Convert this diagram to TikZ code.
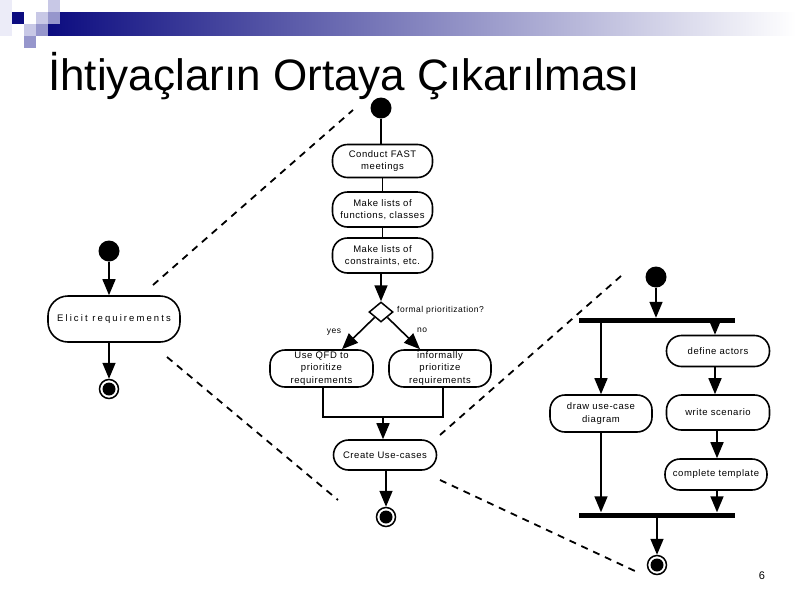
\documentclass[tikz,border=0pt]{standalone}
\usepackage{fontspec}
\setmainfont{Liberation Sans}
\newfontfamily\dfont[LetterSpace=6]{Liberation Sans}
\newfontfamily\wfont[LetterSpace=22]{Liberation Sans}
\usetikzlibrary{arrows.meta,shapes.geometric,calc}
\definecolor{navyd}{RGB}{12,12,128}
\definecolor{lavA}{RGB}{236,236,248}
\definecolor{lavB}{RGB}{200,200,230}
\definecolor{lavC}{RGB}{150,150,204}
\begin{document}
\begin{tikzpicture}[x=1pt,y=-1pt,
  act/.style={draw, line width=1.6pt, rounded corners=15pt, align=center,
    font=\dfont\fontsize{9.5}{12.5}\selectfont, inner sep=1pt, fill=white},
  startdot/.style={circle, fill=black, minimum size=21pt, inner sep=0pt},
  enddot/.style={circle, draw, line width=1.5pt, minimum size=19pt, inner sep=0pt,
    path picture={\fill (path picture bounding box.center) circle (6.5pt);}},
  barnode/.style={fill=black, minimum width=156pt, minimum height=5pt, inner sep=0pt},
  ln/.style={line width=1.6pt},
  arr/.style={line width=1.6pt, -{Triangle[width=13pt,length=16pt]}},
  zoomline/.style={line width=1.8pt, dash pattern=on 7pt off 6pt},
  lbl/.style={font=\dfont\fontsize{8.5}{10}\selectfont, inner sep=0pt}
]
\useasboundingbox (0,0) rectangle (800,600);
\fill[white] (0,0) rectangle (800,600);

% header decoration
\shade[left color=navyd, right color=white] (48,12) rectangle (796,35);
\fill[lavA] (0,0) rectangle (12,36);
\fill[navyd] (12,12) rectangle (24,24);
\fill[lavB] (36,12) rectangle (48,24);
\fill[lavB] (48,0) rectangle (60,12);
\fill[lavC] (48,12) rectangle (60,24);
\fill[lavB] (24,24) rectangle (36,36);
\fill[lavC] (36,24) rectangle (48,36);
\fill[lavC] (24,36) rectangle (36,48);

\node[anchor=base west, font=\fontsize{44}{50}\selectfont, inner sep=0pt] (title) at (48,90)
  {İhtiyaçların Ortaya Çıkarılması};

% zoom lines
\coordinate (z1a) at (153,285);
\coordinate (z1b) at (353,110);
\coordinate (z2a) at (167,357);
\coordinate (z2b) at (338,500);
\coordinate (z3a) at (440,435);
\coordinate (z3b) at (621,276);
\coordinate (z4a) at (440,480);
\coordinate (z4b) at (637,572);
\draw[zoomline] (z1a) -- (z1b);
\draw[zoomline] (z2a) -- (z2b);
\draw[zoomline] (z3a) -- (z3b);
\draw[zoomline] (z4a) -- (z4b);

% left activity
\node[startdot] (ls) at (109,251) {};
\node[act, minimum width=132pt, minimum height=46pt, rounded corners=20pt,
  font=\wfont\fontsize{9.5}{12.5}\selectfont] (elicit) at (114,319) {Elicit requirements};
\node[enddot] (le) at (109,389) {};
\draw[arr] (ls) -- (ls |- elicit.north);
\draw[arr] (elicit.south -| le) -- (le.north);

% middle activity
\node[startdot] (ms) at (381,108) {};
\node[act, minimum width=100pt, minimum height=33pt] (fast) at (382.5,161) {Conduct FAST\\meetings};
\node[act, minimum width=100pt, minimum height=35pt] (mk1) at (382.5,209.5) {Make lists of\\functions, classes};
\node[act, minimum width=100pt, minimum height=35pt] (mk2) at (382.5,255.5) {Make lists of\\constraints, etc.};
\node[draw, diamond, line width=1.5pt, minimum width=24pt, minimum height=20pt, inner sep=0pt, fill=white] (dia) at (381,312) {};
\node[lbl, anchor=west] (q) at (397,310) {formal prioritization?};
\node[act, minimum width=103pt, minimum height=37pt] (qfd) at (321.5,368.5) {Use QFD to\\prioritize\\requirements};
\node[act, minimum width=102pt, minimum height=37pt] (inf) at (440,368.5) {informally\\prioritize\\requirements};
\node[lbl] (yes) at (334,332) {yes};
\node[lbl] (no) at (422,330) {no};
\node[act, minimum width=103pt, minimum height=30pt] (uc) at (385,455) {Create Use-cases};
\node[enddot] (me) at (386,517) {};
\coordinate (jn) at (383,417);

\draw[ln] (ms) -- (ms |- fast.north);
\draw[ln] (fast.south -| mk1) -- (mk1.north);
\draw[ln] (mk1.south) -- (mk2.north);
\draw[arr] (mk2.south -| dia) -- (dia.north);
\draw[arr] (dia.south west) -- ($(qfd.north)+(20.5,0)$);
\draw[arr] (dia.south east) -- ($(inf.north)+(-20,0)$);
\draw[ln] ($(qfd.south)+(1.5,0)$) |- (jn) -| ($(inf.south)+(3,0)$);
\draw[arr] (jn) -- (jn |- uc.north);
\draw[arr] (uc.south -| me) -- (me.north);

% right activity
\node[startdot] (rs) at (656,277) {};
\node[barnode] (fork) at (657,320.5) {};
\node[act, minimum width=102pt, minimum height=37pt] (duc) at (601,413.5) {draw use-case\\diagram};
\node[act, minimum width=103pt, minimum height=31pt] (def) at (718,351) {define actors};
\node[act, minimum width=103pt, minimum height=35pt] (ws) at (718,412.5) {write scenario};
\node[act, minimum width=102pt, minimum height=31pt] (ct) at (716,474.5) {complete template};
\node[barnode] (join) at (657,515) {};
\node[enddot] (re) at (657,565) {};

\draw[arr] (rs) -- (rs |- fork.north);
\draw[arr] (fork.south -| duc) -- (duc.north);
\draw[arr] ($(fork.south -| def)+(-3,0)$) -- ($(def.north)+(-3,0)$);
\draw[arr] ($(def.south)+(-3,0)$) -- ($(ws.north)+(-3,0)$);
\draw[arr] ($(ws.south)+(-1,0)$) -- ($(ct.north)+(1,0)$);
\draw[arr] (duc.south) -- (duc.south |- join.north);
\draw[arr] ($(ct.south)+(1,0)$) -- ($(ct.south |- join.north)+(1,0)$);
\draw[arr] (join.south -| re) -- (re.north);

\node[font=\fontsize{11}{13}\selectfont, inner sep=0pt] (pg) at (762,576) {6};
\end{tikzpicture}
\end{document}
